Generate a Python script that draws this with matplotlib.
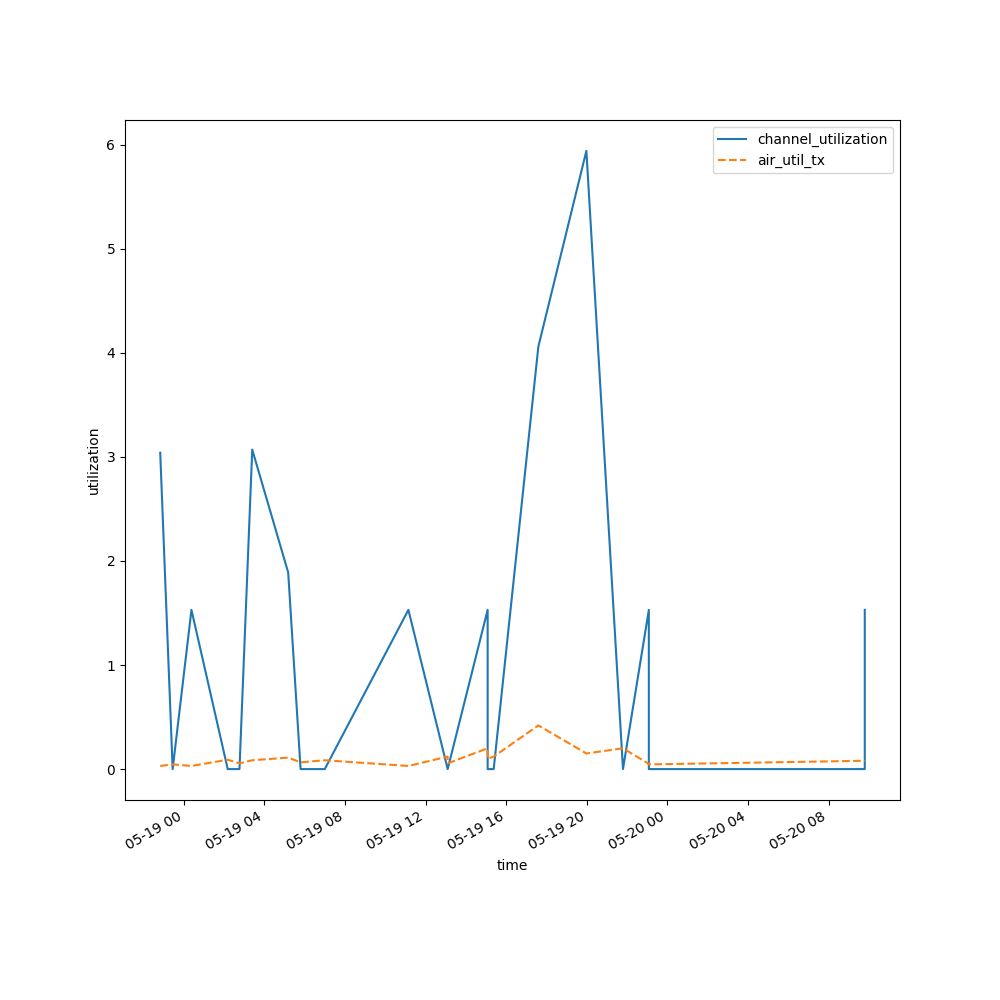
import numpy as np
import pandas as pd
import matplotlib
matplotlib.use('Agg')
import matplotlib.pyplot as plt
import matplotlib.dates as mdates

# データ
time = pd.to_datetime([
    '2024-05-18 22:50', '2024-05-18 23:27', '2024-05-19 00:23', '2024-05-19 02:11',
    '2024-05-19 02:46', '2024-05-19 03:24', '2024-05-19 05:11', '2024-05-19 05:48',
    '2024-05-19 07:00', '2024-05-19 11:09', '2024-05-19 13:06', '2024-05-19 13:06',
    '2024-05-19 15:05', '2024-05-19 15:05', '2024-05-19 15:23', '2024-05-19 17:36',
    '2024-05-19 19:59', '2024-05-19 21:48', '2024-05-19 23:05', '2024-05-19 23:05',
    '2024-05-20 09:48', '2024-05-20 09:48',
])
channel_utilization = [3.04, 0.0, 1.53, 0.0, 0.0, 3.07, 1.89, 0.0, 0.0, 1.53, 0.0, 0.0,
                       1.53, 0.0, 0.0, 4.06, 5.94, 0.0, 1.53, 0.0, 0.0, 1.53]
air_util_tx = [0.03, 0.045, 0.03, 0.09, 0.055, 0.085, 0.11, 0.065, 0.085, 0.03, 0.12, 0.055,
               0.2, 0.1, 0.12, 0.42, 0.15, 0.2, 0.05, 0.045, 0.08, 0.08]

fig, ax = plt.subplots(figsize=(10, 10), dpi=100)
ax.plot(time, channel_utilization, label='channel_utilization')
ax.plot(time, air_util_tx, '--', label='air_util_tx')

ax.xaxis.set_major_locator(mdates.HourLocator(byhour=range(0, 24, 4)))
ax.xaxis.set_major_formatter(mdates.DateFormatter('%m-%d %H'))

ax.set_xlabel('time')
ax.set_ylabel('utilization')
ax.legend(loc='upper right')
fig.autofmt_xdate()

fig.savefig('out.png')
